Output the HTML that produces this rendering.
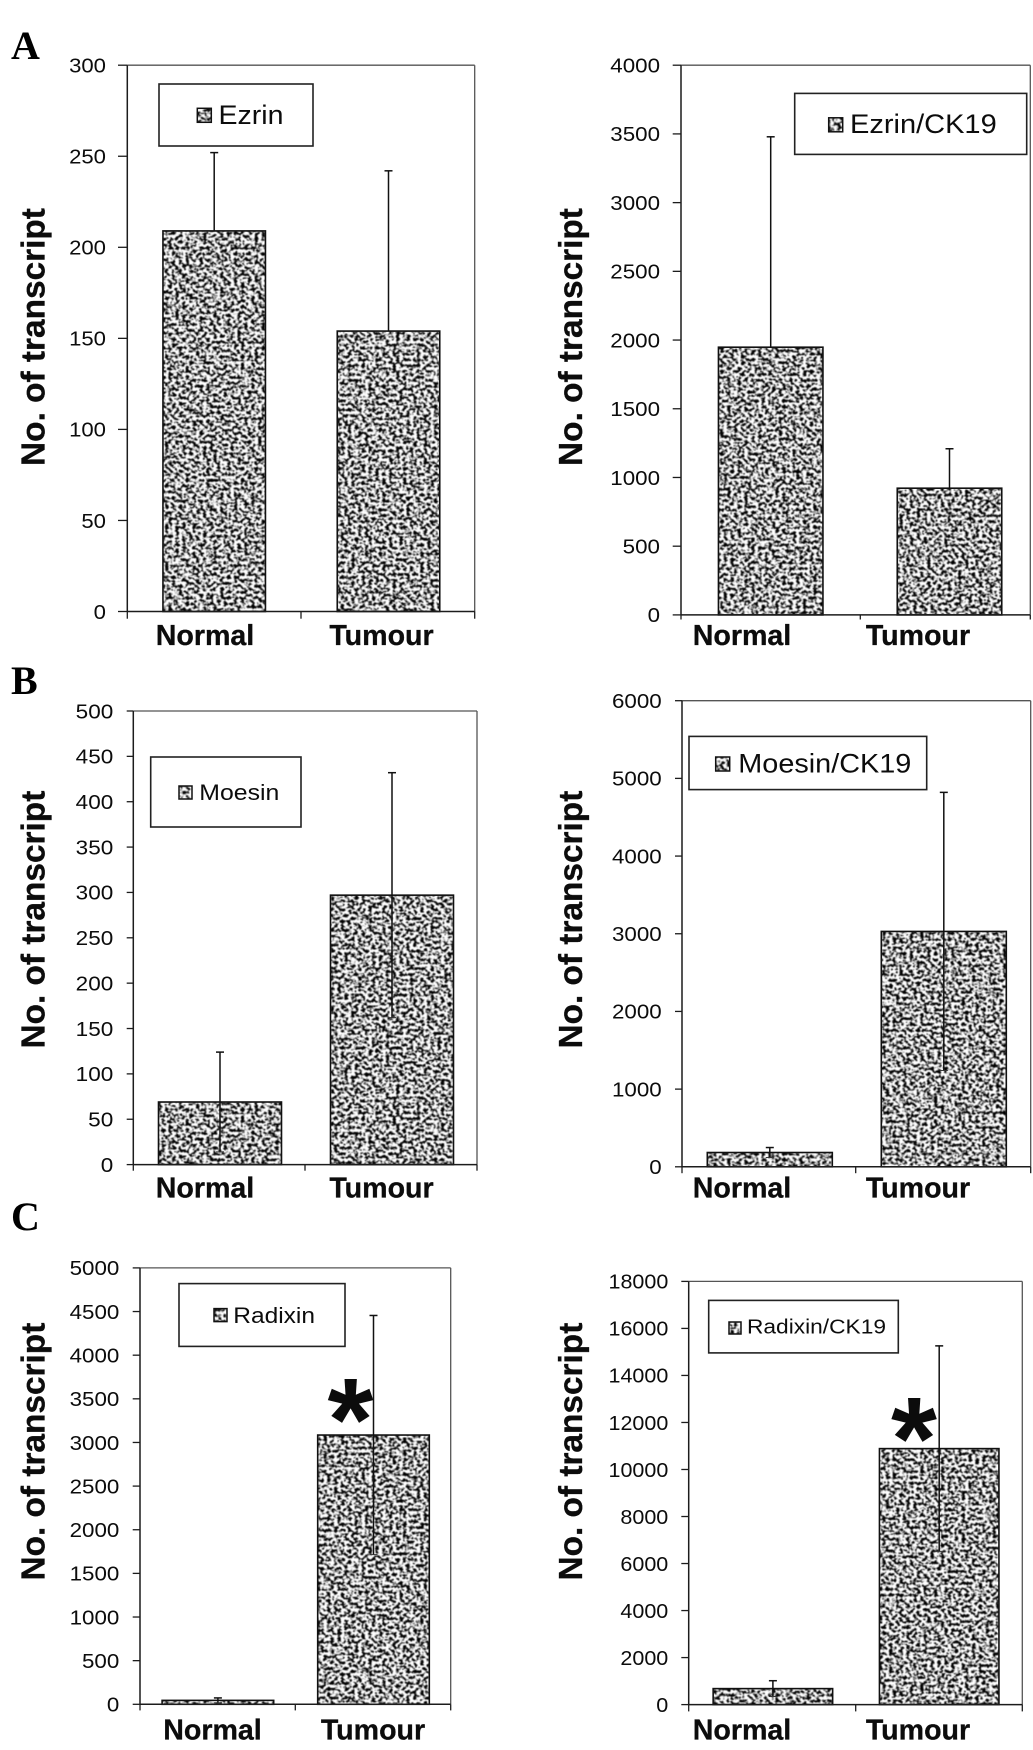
<!DOCTYPE html>
<html lang="en">
<head>
<meta charset="utf-8">
<title>Ezrin, Moesin and Radixin transcript levels</title>
<style>
html,body{margin:0;padding:0;background:#fff;width:1033px;height:1750px;overflow:hidden}
svg{display:block}
text{fill:#0c0c0c;font-family:"Liberation Sans",sans-serif}
.panel-letter{font-family:"Liberation Serif",serif;font-weight:700;font-size:40px;fill:#000}
</style>
</head>
<body>
<svg id="figure" xmlns="http://www.w3.org/2000/svg" width="1033" height="1750" viewBox="0 0 1033 1750">
  <defs>
    <filter id="speckle" color-interpolation-filters="sRGB" x="0" y="0" width="100%" height="100%">
      <feTurbulence type="fractalNoise" baseFrequency="0.29 0.34" numOctaves="2" seed="23" result="noise"/>
      <feColorMatrix in="noise" type="matrix" values="5.6 0 0 0 -2.13  5.6 0 0 0 -2.13  5.6 0 0 0 -2.13  0 0 0 0 1" result="grain"/>
      <feGaussianBlur in="grain" stdDeviation="0.55" result="soft"/>
      <feComposite in="soft" in2="SourceGraphic" operator="in"/>
    </filter>
  </defs>
  <rect x="0" y="0" width="1033" height="1750" fill="#fff"/>
  <text class="panel-letter" x="11" y="59">A</text>
  <text class="panel-letter" x="11" y="694">B</text>
  <text class="panel-letter" x="11" y="1230">C</text>
  <g id="chart-ezrin"></g>
  <g id="chart-ezrin-ck19"></g>
  <g id="chart-moesin"></g>
  <g id="chart-moesin-ck19"></g>
  <g id="chart-radixin"></g>
  <g id="chart-radixin-ck19"></g>
</svg>
<script>
const categories = ["Normal", "Tumour"];
const yAxisTitle = "No. of transcript";

const ezrinValues = [209, 154];
const ezrinErrors = [43, 88];
const ezrinTicks = [0, 50, 100, 150, 200, 250, 300];

const ezrinCk19Values = [1948, 922];
const ezrinCk19Errors = [1531, 287];
const ezrinCk19Ticks = [0, 500, 1000, 1500, 2000, 2500, 3000, 3500, 4000];

const moesinValues = [69, 297];
const moesinErrors = [55, 135];
const moesinTicks = [0, 50, 100, 150, 200, 250, 300, 350, 400, 450, 500];

const moesinCk19Values = [184, 3030];
const moesinCk19Errors = [64, 1790];
const moesinCk19Ticks = [0, 1000, 2000, 3000, 4000, 5000, 6000];

const radixinValues = [45, 3085];
const radixinErrors = [28, 1370];
const radixinTicks = [0, 500, 1000, 1500, 2000, 2500, 3000, 3500, 4000, 4500, 5000];

const radixinCk19Values = [680, 10888];
const radixinCk19Errors = [336, 4370];
const radixinCk19Ticks = [0, 2000, 4000, 6000, 8000, 10000, 12000, 14000, 16000, 18000];

const SVG_NS = "http://www.w3.org/2000/svg";

function make(parent, tag, attrs, content) {
  const el = document.createElementNS(SVG_NS, tag);
  for (const key in attrs) {
    el.setAttribute(key, attrs[key]);
  }
  if (content !== undefined) {
    el.textContent = content;
  }
  parent.appendChild(el);
  return el;
}

function drawChart(c) {
  const root = document.getElementById(c.id);
  const maxValue = c.ticks[c.ticks.length - 1];
  const yScale = function (v) { return c.bottom - (v / maxValue) * (c.bottom - c.top); };
  const xScale = function (i) { return c.band0 + i * c.bandStep; };
  const darkAxis = "#1c1c1c";
  const frameColor = "#555";

  // bars
  c.values.forEach(function (v, i) {
    const cat = categories[i].toLowerCase();
    const fill = make(root, "rect", {
      x: xScale(i) - c.barWidth / 2, y: yScale(v), width: c.barWidth, height: c.bottom - yScale(v),
      fill: "#000", filter: "url(#speckle)"
    });
    
    
    const outline = make(root, "rect", {
      x: xScale(i) - c.barWidth / 2, y: yScale(v), width: c.barWidth, height: c.bottom - yScale(v),
      fill: "none", stroke: "#111", "stroke-width": 1.6
    });
    
    
  });

  // error bars
  c.errors.forEach(function (e, i) {
    const cat = categories[i].toLowerCase();
    const x = xScale(i);
    const hi = yScale(c.values[i] + e);
    const lo = c.lowerWhisker ? yScale(Math.max(0, c.values[i] - e)) : yScale(c.values[i]);
    const stem = make(root, "line", { x1: x, x2: x, y1: hi, y2: lo, stroke: "#111", "stroke-width": 1.5 });
    
    
    const capTop = make(root, "line", { x1: x - 4, x2: x + 4, y1: hi, y2: hi, stroke: "#111", "stroke-width": 1.5 });
    
    
    if (c.lowerWhisker) {
      const capLow = make(root, "line", { x1: x - 4, x2: x + 4, y1: lo, y2: lo, stroke: "#333", "stroke-width": 1 });
      
      
    }
  });

  // plot frame
  const frameTop = make(root, "line", { x1: c.left, x2: c.right, y1: c.top, y2: c.top, stroke: frameColor, "stroke-width": 1.3 });
  
  
  const frameRight = make(root, "line", { x1: c.right, x2: c.right, y1: c.top, y2: c.bottom, stroke: frameColor, "stroke-width": 1.3 });
  
  
  const yAxis = make(root, "line", { x1: c.left, x2: c.left, y1: c.top, y2: c.bottom, stroke: darkAxis, "stroke-width": 1.5 });
  
  
  const xAxis = make(root, "line", { x1: c.left, x2: c.right, y1: c.bottom, y2: c.bottom, stroke: darkAxis, "stroke-width": 1.5 });
  
  

  // y ticks and labels
  c.ticks.forEach(function (t) {
    const y = yScale(t);
    const tick = make(root, "line", { x1: c.tickLeft, x2: c.left, y1: y, y2: y, stroke: darkAxis, "stroke-width": 1.3 });
    
    
    const label = String(t);
    const lab = make(root, "text", {
      x: c.labelRight, y: y + 7.3, "text-anchor": "end", "font-size": 20.5,
      textLength: (label.length * 0.556 * 20.5 * c.tickStretch).toFixed(1), lengthAdjust: "spacingAndGlyphs"
    }, label);
    
    
  });

  // x ticks
  [c.left, c.mid, c.right].forEach(function (x) {
    const tick = make(root, "line", { x1: x, x2: x, y1: c.bottom, y2: c.tickBottom, stroke: darkAxis, "stroke-width": 1.3 });
    
    
  });

  // category labels
  categories.forEach(function (name, i) {
    const lab = make(root, "text", {
      x: c.catCenters[i], y: c.catBaseline, "text-anchor": "middle", "font-size": 28.6, "font-weight": 700,
      stroke: "#0c0c0c", "stroke-width": 0.3
    }, name);
    
    
  });

  // y axis title
  const title = make(root, "text", {
    x: c.titleX, y: c.titleY, "text-anchor": "middle", "font-size": 33.4, "font-weight": 700,
    stroke: "#0c0c0c", "stroke-width": 0.3,
    transform: "rotate(-90 " + c.titleX + " " + c.titleY + ")"
  }, yAxisTitle);
  
  

  // legend
  const lg = c.legend;
  const legend = make(root, "g", {});
  
  
  const box = make(legend, "rect", { x: lg.x, y: lg.y, width: lg.w, height: lg.h, fill: "#fff", stroke: "#222", "stroke-width": 1.6 });
  
  
  const swatchFill = make(legend, "rect", { x: lg.sx, y: lg.sy, width: lg.ss, height: lg.ss, fill: "#000", filter: "url(#speckle)" });
  
  
  const swatchEdge = make(legend, "rect", { x: lg.sx, y: lg.sy, width: lg.ss, height: lg.ss, fill: "none", stroke: "#111", "stroke-width": 1.5 });
  
  
  const legendText = make(legend, "text", {
    x: lg.tx, y: lg.ty, "font-size": lg.fs, textLength: lg.tw, lengthAdjust: "spacingAndGlyphs"
  }, c.legendLabel);
  
  

  // significance star
  if (c.star) {
    const star = make(root, "text", {
      x: c.star.x, y: c.star.y, "text-anchor": "middle", "font-size": 118, "font-weight": 700, fill: "#000"
    }, "*");
    
    
  }
}

drawChart({
  id: "chart-ezrin", legendLabel: "Ezrin", values: ezrinValues, errors: ezrinErrors, ticks: ezrinTicks,
  left: 127.3, right: 474.7, mid: 301, top: 65.2, bottom: 611.5, tickLeft: 118, tickBottom: 618.7,
  band0: 214.2, bandStep: 174.3, barWidth: 102.5, lowerWhisker: false,
  labelRight: 106, tickStretch: 1.08, catCenters: [205, 381.5], catBaseline: 645, titleX: 44.5, titleY: 337,
  legend: { x: 159, y: 84, w: 154, h: 62, sx: 197.3, sy: 108.3, ss: 14, tx: 218.5, ty: 124, fs: 26.5, tw: 65 }
});
drawChart({
  id: "chart-ezrin-ck19", legendLabel: "Ezrin/CK19", values: ezrinCk19Values, errors: ezrinCk19Errors, ticks: ezrinCk19Ticks,
  left: 681, right: 1030.3, mid: 860.3, top: 65.2, bottom: 614.9, tickLeft: 672.7, tickBottom: 619.5,
  band0: 770.7, bandStep: 178.8, barWidth: 104.5, lowerWhisker: false,
  labelRight: 660, tickStretch: 1.09, catCenters: [742, 918], catBaseline: 645, titleX: 582, titleY: 337,
  legend: { x: 794.7, y: 93.4, w: 232, h: 61, sx: 828.7, sy: 117.8, ss: 14, tx: 850, ty: 133, fs: 26.5, tw: 146.7 }
});
drawChart({
  id: "chart-moesin", legendLabel: "Moesin", values: moesinValues, errors: moesinErrors, ticks: moesinTicks,
  left: 133.3, right: 477, mid: 305, top: 711, bottom: 1164.6, tickLeft: 126.7, tickBottom: 1170.7,
  band0: 220, bandStep: 172, barWidth: 123, lowerWhisker: true,
  labelRight: 113.3, tickStretch: 1.1, catCenters: [205, 381.5], catBaseline: 1197.5, titleX: 44.5, titleY: 919.6,
  legend: { x: 150.7, y: 757, w: 150.3, h: 70, sx: 179, sy: 786, ss: 13, tx: 199.3, ty: 800, fs: 22.5, tw: 80 }
});
drawChart({
  id: "chart-moesin-ck19", legendLabel: "Moesin/CK19", values: moesinCk19Values, errors: moesinCk19Errors, ticks: moesinCk19Ticks,
  left: 682, right: 1030.7, mid: 855.7, top: 700.7, bottom: 1166.8, tickLeft: 675, tickBottom: 1173.2,
  band0: 769.8, bandStep: 174, barWidth: 125, lowerWhisker: true,
  labelRight: 661.7, tickStretch: 1.09, catCenters: [742, 918], catBaseline: 1197.5, titleX: 582, titleY: 919.6,
  legend: { x: 689, y: 736.4, w: 237.7, h: 53.2, sx: 715.7, sy: 757, ss: 14, tx: 738.3, ty: 772.5, fs: 26.5, tw: 173 }
});
drawChart({
  id: "chart-radixin", legendLabel: "Radixin", values: radixinValues, errors: radixinErrors, ticks: radixinTicks,
  left: 140, right: 450.7, mid: 295.3, top: 1267.9, bottom: 1704.3, tickLeft: 132.7, tickBottom: 1710.4,
  band0: 217.9, bandStep: 155.6, barWidth: 111.6, lowerWhisker: true,
  labelRight: 119.3, tickStretch: 1.09, catCenters: [212.5, 373], catBaseline: 1739.3, titleX: 44.5, titleY: 1451.6,
  legend: { x: 179, y: 1283.6, w: 166, h: 62.8, sx: 214, sy: 1308.6, ss: 13, tx: 233.3, ty: 1322.9, fs: 22.5, tw: 81.7 },
  star: { x: 350.5, y: 1460 }
});
drawChart({
  id: "chart-radixin-ck19", legendLabel: "Radixin/CK19", values: radixinCk19Values, errors: radixinCk19Errors, ticks: radixinCk19Ticks,
  left: 688.7, right: 1022.3, mid: 855.7, top: 1281.4, bottom: 1704.6, tickLeft: 681.3, tickBottom: 1711.4,
  band0: 772.9, bandStep: 166.3, barWidth: 119.5, lowerWhisker: true,
  labelRight: 668.3, tickStretch: 1.05, catCenters: [742, 918], catBaseline: 1739.3, titleX: 582, titleY: 1451.6,
  legend: { x: 708.7, y: 1300.4, w: 189.6, h: 52.5, sx: 729, sy: 1322, ss: 12, tx: 747, ty: 1333.6, fs: 20, tw: 139 },
  star: { x: 914, y: 1479 }
});
</script>
</body>
</html>
